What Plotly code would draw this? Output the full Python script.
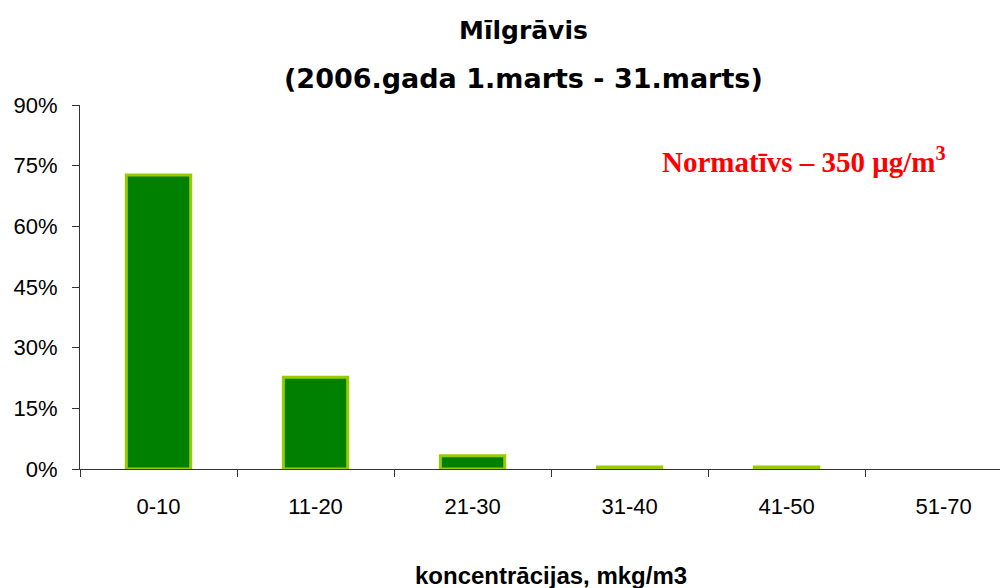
import plotly.graph_objects as go

categories = ['0-10', '11-20', '21-30', '31-40', '41-50', '51-70']
shares = [0.727, 0.227, 0.033, 0.005, 0.005, 0.0]
y_ticks = [0, 0.15, 0.30, 0.45, 0.60, 0.75, 0.90]
y_tick_labels = ['0%', '15%', '30%', '45%', '60%', '75%', '90%']

# no outline on empty bars
outline = [3 if v > 0 else 0 for v in shares]

fig = go.Figure()
fig.add_trace(go.Bar(
    x=categories, y=shares, width=0.41,
    marker=dict(color='#008000', line=dict(color='#99CC00', width=outline)),
))

# page body has an 8px margin, so the figure is 8px smaller and margins shifted
fig.update_layout(
    width=1000, height=580,
    margin=dict(l=72, r=0, t=97, b=119),
    paper_bgcolor='white', plot_bgcolor='white',
    showlegend=False,
    font=dict(family='Liberation Sans, Arial', size=22, color='black'),
    xaxis=dict(
        type='category', range=[-0.5, 5.41],
        showline=True, linecolor='#333333', linewidth=1,
        ticks='outside', tickson='boundaries', ticklen=7, tickcolor='#333333',
        ticklabelstandoff=18, showgrid=False,
    ),
    yaxis=dict(
        range=[0, 0.9], tickvals=y_ticks, ticktext=y_tick_labels,
        showline=True, linecolor='#333333', linewidth=1,
        ticks='outside', ticklen=7, tickcolor='#333333',
        ticklabelstandoff=10, showgrid=False, zeroline=False,
    ),
)

fig.add_annotation(
    text='<b>Mīlgrāvis</b>', xref='paper', yref='paper', x=0.478, y=1.0, yshift=75,
    showarrow=False, font=dict(family='DejaVu Sans', size=25), xanchor='center', yanchor='middle',
)
fig.add_annotation(
    text='<b>(2006.gada 1.marts - 31.marts)</b>', xref='paper', yref='paper', x=0.478, y=1.0, yshift=27,
    showarrow=False, font=dict(family='DejaVu Sans', size=27), xanchor='center', yanchor='middle',
)
fig.add_annotation(
    text='<b>koncentrācijas, mkg/m3</b>', xref='paper', yref='paper', x=0.508, y=0, yshift=-106,
    showarrow=False, font=dict(size=24), xanchor='center', yanchor='middle',
)
fig.add_annotation(
    text='<b>Normatīvs – 350 μg/m<sup>3</sup></b>', xref='paper', yref='paper',
    x=0.935, y=0.849, xanchor='right', yanchor='middle', showarrow=False,
    font=dict(family='Liberation Serif, Times New Roman', size=29, color='#FF0000'),
)

fig.write_html('out.html')
